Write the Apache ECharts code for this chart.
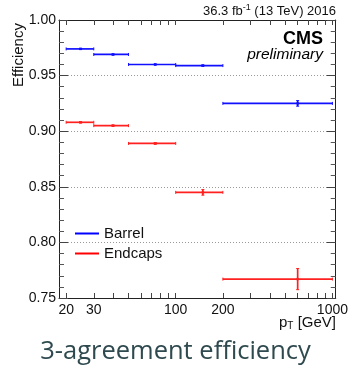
<!DOCTYPE html>
<html><head><meta charset="utf-8">
<script src="https://cdn.jsdelivr.net/npm/echarts@6/dist/echarts.min.js"></script>
<style>html,body{margin:0;padding:0;background:#fff;}#c{width:351px;height:368px;}</style>
</head><body><div id="c"></div>
<script>
// Bin edges (pT, GeV)
const ptLow  = [20, 30, 50, 100, 200];
const ptHigh = [30, 50, 100, 200, 1000];
// Bin centres (mean pT)
const ptCenter = [24.7, 39.8, 74, 149, 600];
// Barrel efficiency and uncertainty
const barrelEff = [0.974, 0.969, 0.960, 0.959, 0.925];
const barrelErr = [0.0005, 0.0005, 0.0005, 0.0006, 0.0025];
// Endcaps efficiency and uncertainty
const endcapEff = [0.908, 0.905, 0.889, 0.845, 0.767];
const endcapErr = [0.0006, 0.0006, 0.0007, 0.0025, 0.0095];
// Axis tick labels
const xLabelValues = [20, 30, 100, 200, 1000];
const xTickValues = [20, 30, 40, 50, 60, 70, 80, 90, 100, 200, 300, 400, 500, 600, 700, 800, 900, 1000];

function buildData(eff, err) {
  return ptCenter.map((x, i) => [x, eff[i], ptLow[i], ptHigh[i], err[i]]);
}

function renderErr(color) {
  return function (params, api) {
    const x = api.value(0), y = api.value(1), e = api.value(4);
    const c = api.coord([x, y]);
    const l = api.coord([api.value(2), y]);
    const r = api.coord([api.value(3), y]);
    const t = api.coord([x, y + e]);
    const b = api.coord([x, y - e]);
    const st = { stroke: color, lineWidth: 1.7 };
    const cap = 1.5;
    return {
      type: 'group',
      children: [
        { type: 'line', shape: { x1: l[0], y1: l[1], x2: r[0], y2: r[1] }, style: st },
        { type: 'line', shape: { x1: t[0], y1: t[1], x2: b[0], y2: b[1] }, style: st },
        { type: 'line', shape: { x1: l[0], y1: l[1] - cap, x2: l[0], y2: l[1] + cap }, style: { stroke: color, lineWidth: 1 } },
        { type: 'line', shape: { x1: r[0], y1: r[1] - cap, x2: r[0], y2: r[1] + cap }, style: { stroke: color, lineWidth: 1 } },
        { type: 'line', shape: { x1: t[0] - cap, y1: t[1], x2: t[0] + cap, y2: t[1] }, style: { stroke: color, lineWidth: 1 } },
        { type: 'line', shape: { x1: b[0] - cap, y1: b[1], x2: b[0] + cap, y2: b[1] }, style: { stroke: color, lineWidth: 1 } },
        { type: 'rect', shape: { x: c[0] - 1.2, y: c[1] - 1.2, width: 2.4, height: 2.4 }, style: { fill: color } }
      ]
    };
  };
}

const font = 'Liberation Sans, Arial, Helvetica, sans-serif';
const lineCol = '#222';

const xBase = {
  type: 'log', logBase: 10, min: 18, max: 1050,
  axisLine: { show: true, lineStyle: { color: lineCol, width: 1 } },
  axisTick: { show: true, inside: true, length: 5, customValues: xTickValues, lineStyle: { color: '#444' } },
  splitLine: { show: false }, minorTick: { show: false }, minorSplitLine: { show: false }
};
const yBase = {
  type: 'value', min: 0.75, max: 1.0, interval: 0.05,
  axisLine: { show: true, lineStyle: { color: lineCol, width: 1 } },
  axisTick: { show: true, inside: true, length: 9, lineStyle: { color: '#444' } },
  minorTick: { show: true, splitNumber: 5, length: 5, lineStyle: { color: '#555' } }
};

const chart = echarts.init(document.getElementById('c'), null, { renderer: 'canvas' });
chart.setOption({
  animation: false,
  backgroundColor: '#fff',
  grid: { left: 59, right: 15, top: 20, bottom: 70, containLabel: false },
  xAxis: [
    Object.assign({}, xBase, {
      position: 'bottom',
      axisLabel: { show: true, customValues: xLabelValues, color: '#111', fontSize: 14, fontFamily: font, margin: 5, formatter: v => String(Math.round(v)) }
    }),
    Object.assign({}, xBase, { position: 'top', axisLabel: { show: false } })
  ],
  yAxis: [
    Object.assign({}, yBase, {
      position: 'left',
      axisLabel: { show: true, color: '#111', fontSize: 14, fontFamily: font, margin: 3, formatter: v => v.toFixed(2) },
      splitLine: { show: true, lineStyle: { color: '#999', type: [1, 2], width: 1 } }
    }),
    Object.assign({}, yBase, { position: 'right', axisLabel: { show: false }, splitLine: { show: false } })
  ],
  legend: {
    orient: 'vertical', left: 70, top: 221, itemGap: 5,
    itemWidth: 24, itemHeight: 2,
    textStyle: { fontSize: 15, fontFamily: font, color: '#111' },
    data: [
      { name: 'Barrel', icon: 'rect', itemStyle: { color: '#0000ff' } },
      { name: 'Endcaps', icon: 'rect', itemStyle: { color: '#ff0000' } }
    ]
  },
  series: [
    { name: 'Barrel', type: 'custom', xAxisIndex: 0, yAxisIndex: 0, renderItem: renderErr('#1010ff'),
      encode: { x: 0, y: 1 }, data: buildData(barrelEff, barrelErr), itemStyle: { color: '#0000ff' } },
    { name: 'Endcaps', type: 'custom', xAxisIndex: 0, yAxisIndex: 0, renderItem: renderErr('#ff2020'),
      encode: { x: 0, y: 1 }, data: buildData(endcapEff, endcapErr), itemStyle: { color: '#ff0000' } }
  ],
  graphic: [
    { type: 'text', left: 'center', top: 339, style: { text: '3-agreement efficiency', font: '25.5px "Open Sans"', fill: '#2f4a4f' } },
    { type: 'text', right: 15, top: 3, style: {
        text: '{a|36.3 fb}{s|-1}{a| (13 TeV) 2016}',
        rich: { a: { font: '13px ' + font, fill: '#111', verticalAlign: 'bottom' },
                s: { font: '9px ' + font, fill: '#111', verticalAlign: 'top', padding: [0, 0, 6, 0] } } } },
    { type: 'text', right: 28, top: 30, style: { text: 'CMS', font: 'bold 18px ' + font, fill: '#000' } },
    { type: 'text', right: 28, top: 47, style: { text: 'preliminary', font: 'italic 15.5px ' + font, fill: '#000' } },
    { type: 'text', x: 11, y: 87, rotation: Math.PI / 2, style: { text: 'Efficiency', font: '15px ' + font, fill: '#111', textAlign: 'left', textVerticalAlign: 'top' } },
    { type: 'text', right: 15, top: 315, style: {
        text: '{a|p}{s|T}{a| [GeV]}',
        rich: { a: { font: '15px ' + font, fill: '#111' }, s: { font: '10px ' + font, fill: '#111', padding: [8, 0, 0, 0] } } } }
  ]
});
</script>
</body></html>
